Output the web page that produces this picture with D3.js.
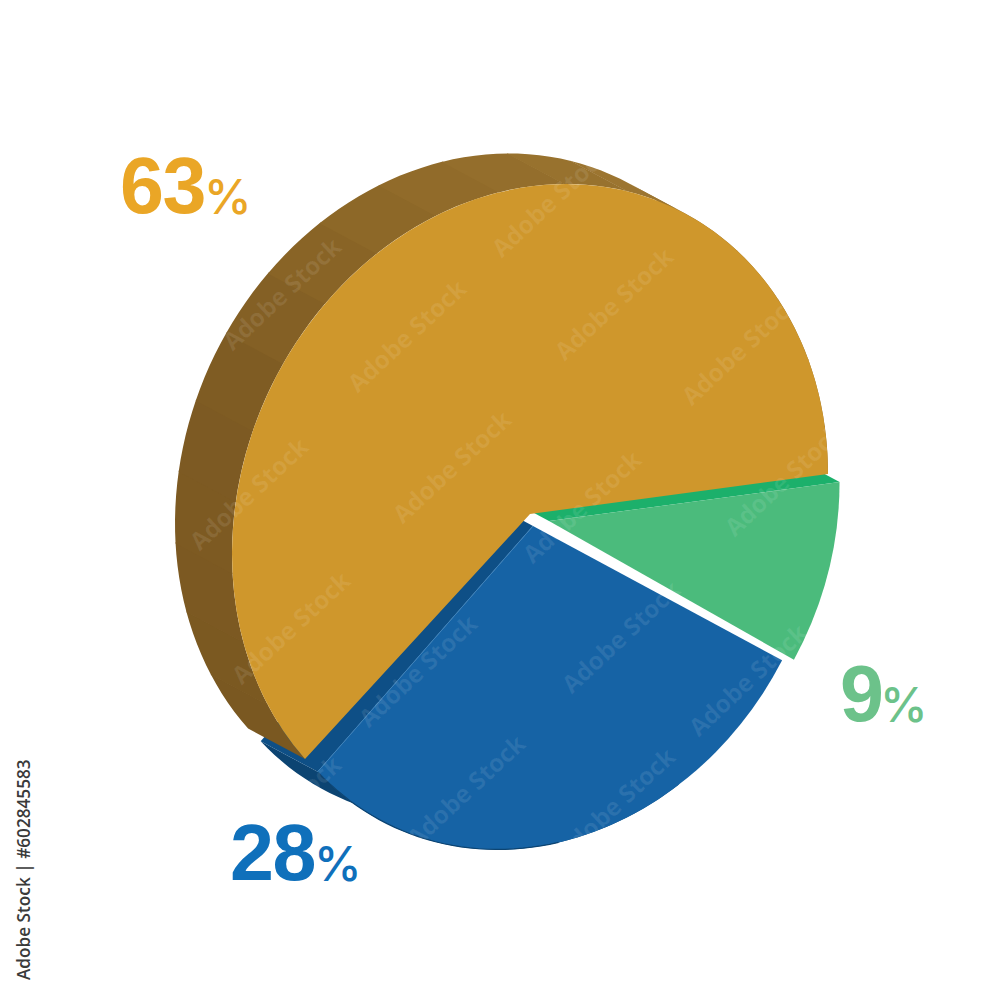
<!DOCTYPE html>
<html><head><meta charset="utf-8">
<script src="https://cdn.jsdelivr.net/npm/d3@7"></script>
<style>html,body{margin:0;background:#fff}svg{display:block}</style></head>
<body><svg id="c" width="1000" height="1000"></svg>
<script>
const names = ["green","blue","gold"];
const values = [9,28,63];
const faceColors = ["#4bbb7c","#1663a5","#cf972c"];
const wallColors = ["#1cb06b","#0e4f86","#7d5a22"];
const labelColors = ["#6cc28a","#0f70bb","#eaa626"];
const labelNumbers = ["9","28","63"];
const stockCaption = "Adobe Stock | #602845583";
const stockStamp = "Adobe Stock";

const svg = d3.select("#c");
const rad = d => d*Math.PI/180;

// The picture's oblique projection: unit circle -> screen ellipse
const A = [298,-40], B = [0,327.6];
const depth = [-57,-30.5];
const project = (t,r,c) => [c[0]+r*(A[0]*Math.cos(t)+B[0]*Math.sin(t)), c[1]+r*(A[1]*Math.cos(t)+B[1]*Math.sin(t))];
const matrix = c => `matrix(${A[0]},${A[1]},${B[0]},${B[1]},${c[0]},${c[1]})`;

// pie layout gives the shares; the drawing's angles are foreshortened, so map them through a scale
const pie = d3.pie().sort(null).startAngle(0).endAngle(2*Math.PI)(values);
const angle = d3.scaleLinear()
  .domain([0,pie[0].endAngle,pie[1].endAngle,2*Math.PI])
  .range([rad(0),rad(32.5),rad(137.5),rad(360)]);
const centers = [[549,521],[533,526],[530,514]];
const radii = [0.975,0.98,1];
const startTrim = [0,-1,1.5];
const spans = pie.map((p,i)=>[angle(p.startAngle)+rad(startTrim[i]),angle(p.endAngle)]);

const arcGen = d3.arc().innerRadius(0);
const shift = p => [p[0]+depth[0],p[1]+depth[1]];
const line = d3.line();

const wallLayer = svg.append("g"), faceLayer = svg.append("g");

// blue outer wall + cut wall (behind the gold wall)
{
  const c=centers[1], r=radii[1];
  const ts=d3.range(0,41).map(k=>rad(60)+(spans[1][1]-rad(60))*k/40);
  const pts=ts.map(t=>project(t,r,c));
  wallLayer.append("path").attr("d",line(pts.concat(pts.map(shift).reverse()))+"Z").attr("fill","#0c4472");
  const cut=[c,project(spans[1][1],r,c)];
  wallLayer.append("path").attr("d",line(cut.concat(cut.map(shift).reverse()))+"Z").attr("fill",wallColors[1]);
}
// gold outer wall, faceted bands
const goldBands = d3.range(spans[2][0],spans[2][1],rad(12.5));
const goldShade = d3.scaleLinear().domain([rad(137),rad(200),rad(235),rad(290)])
  .range(["#7a5821","#7e5b23","#8c6727","#9c7530"]).clamp(true);
goldBands.forEach(t0=>{
  const t1=Math.min(t0+rad(12.7),spans[2][1]);
  const arcPts=d3.range(0,7).map(k=>project(t0+(t1-t0)*k/6,radii[2],centers[2]));
  wallLayer.append("path").attr("d",line(arcPts.concat(arcPts.map(shift).reverse()))+"Z")
    .attr("fill",goldShade(t0));
});
// green cut wall
{
  const c=centers[0], r=radii[0];
  const cut=[c,project(spans[0][0],r,c)];
  wallLayer.append("path").attr("d",line(cut.concat(cut.map(shift).reverse()))+"Z").attr("fill",wallColors[0]);
}
// faces, drawn with d3.arc under the projection matrix
[2,1,0].forEach(i=>{
  faceLayer.append("path")
    .attr("transform",matrix(centers[i]))
    .attr("d",arcGen({outerRadius:radii[i],startAngle:spans[i][0]+Math.PI/2,endAngle:spans[i][1]+Math.PI/2}))
    .attr("fill",faceColors[i]);
});
// light edge on the blue face, dark rim under it
{
  const c=centers[1];
  faceLayer.append("path").attr("d",line([c,project(spans[1][1],radii[1],c)]))
    .attr("stroke","#3f82ba").attr("stroke-width",1).attr("fill","none");
  const rim=d3.range(0,31).map(k=>project(rad(85)+(spans[1][1]-rad(85))*k/30,radii[1],c));
  faceLayer.append("path").attr("d",line(rim)).attr("stroke","#0c4472").attr("stroke-width",1.2).attr("fill","none");
}

// faint stock stamps across the artwork
const stampSpots = [[551,201],[614,304],[741,349],[407,336],[452,467],[784,480],[282,294],[249,494],[291,628],[621,637],[748,680],[582,507],[418,671],[466,791],[616,804],[282,812]];
const mark = svg.append("g").attr("font-family","'Open Sans',sans-serif").attr("font-weight",700).attr("font-size",24.5);
stampSpots.forEach(([x,y])=>{
  mark.append("text").attr("transform",`translate(${x},${y}) rotate(-43)`).attr("text-anchor","middle")
    .attr("dy","0.35em").attr("fill","#fff").attr("fill-opacity",0.09).text(stockStamp);
});

// labels
const labelPos = [[842,722,883],[232,881,317],[122,214,207]];
const labels = svg.append("g");
names.forEach((n,i)=>{
  labels.append("text").attr("font-family","'Liberation Sans',Arial,sans-serif").attr("x",labelPos[i][0]-2).attr("y",labelPos[i][1]-1).attr("font-size",79).attr("font-weight",700)
    .attr("letter-spacing",-1.5).attr("fill",labelColors[i]).text(labelNumbers[i]);
  labels.append("text").attr("font-family","Inter,sans-serif").attr("x",labelPos[i][2]-3).attr("y",labelPos[i][1]).attr("font-size",48).attr("font-weight",500)
    .attr("fill",labelColors[i]).text("%");
});
svg.append("text").attr("transform","translate(30,980) rotate(-90)")
  .attr("font-family","'Open Sans',sans-serif").attr("font-weight",600).attr("font-size",17.2).attr("fill","#3a3a3a").text(stockCaption);
</script></body></html>
